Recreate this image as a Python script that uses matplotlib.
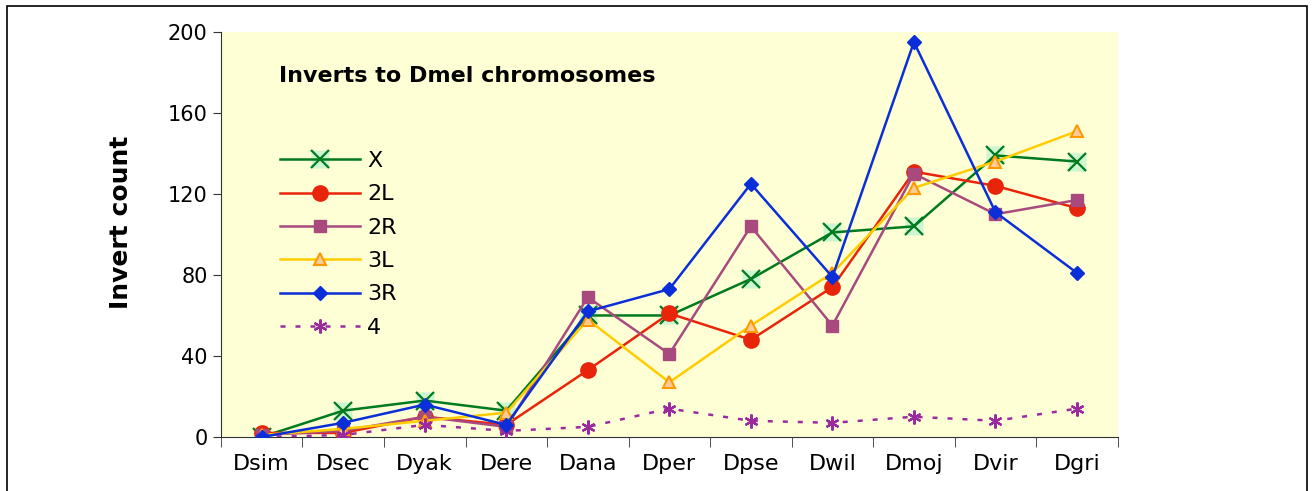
import matplotlib
matplotlib.use('Agg')
import matplotlib.pyplot as plt
from matplotlib.legend_handler import HandlerTuple
from matplotlib.patches import Rectangle
import numpy as np

species = ['Dsim', 'Dsec', 'Dyak', 'Dere', 'Dana', 'Dper', 'Dpse', 'Dwil', 'Dmoj', 'Dvir', 'Dgri']

chr_x  = [0, 13, 18, 13, 60, 60, 78, 101, 104, 139, 136]
chr_2l = [2, 2, 10, 6, 33, 61, 48, 74, 131, 124, 113]
chr_2r = [1, 3, 10, 5, 69, 41, 104, 55, 130, 110, 117]
chr_3l = [1, 4, 8, 12, 58, 27, 55, 81, 123, 136, 151]
chr_3r = [0, 7, 16, 6, 62, 73, 125, 79, 195, 111, 81]
chr_4  = [0, 1, 6, 3, 5, 14, 8, 7, 10, 8, 14]

fig = plt.figure(figsize=(13.15, 4.91), dpi=100)
ax = fig.add_axes([0.168, 0.110, 0.682, 0.825])
ax.set_facecolor('#FFFFD6')

# frame around whole chart
fig.patches.append(Rectangle((7/1315, -0.05), 1300/1315, 1 - 6/491 + 0.05,
                             transform=fig.transFigure, fill=False,
                             edgecolor='black', linewidth=1.2))

xs = np.arange(len(species))

# X series: light green square behind an x marker
bg, = ax.plot(xs, chr_x, linestyle='none', marker='s', markersize=13,
              markerfacecolor='#CCF5D0', markeredgecolor='none', zorder=2)
lx, = ax.plot(xs, chr_x, color='#007A1E', linewidth=1.8, marker='x',
              markersize=13, markeredgewidth=1.6, zorder=3)
l2l, = ax.plot(xs, chr_2l, color='#E8240A', linewidth=1.8, marker='o',
               markersize=11, zorder=3)
l2r, = ax.plot(xs, chr_2r, color='#A84A7E', linewidth=1.8, marker='s',
               markersize=9, zorder=3)
l3l, = ax.plot(xs, chr_3l, color='#FFCC00', linewidth=1.8, marker='^',
               markersize=9, markerfacecolor='#FFCC99', markeredgecolor='#FF9900',
               markeredgewidth=1.5, zorder=3)
l3r, = ax.plot(xs, chr_3r, color='#0A2FD8', linewidth=1.8, marker='D',
               markersize=7, zorder=4)
l4, = ax.plot(xs, chr_4, color='#9B2A9E', linewidth=1.8, linestyle=(0, (2, 4)),
              marker=(6, 2, 0), markersize=10, markeredgewidth=1.6, zorder=3)

ax.set_xlim(-0.5, len(species) - 0.5)
ax.set_ylim(0, 200)
ax.set_yticks(range(0, 201, 40))
ax.set_xticks(xs)
ax.set_xticklabels(species)
ax.set_xticks(np.arange(-0.5, len(species), 1), minor=True)
ax.tick_params(axis='x', which='major', length=0, pad=12, labelsize=16)
ax.tick_params(axis='x', which='minor', length=7, direction='out', color='#333333')
ax.tick_params(axis='y', length=6, direction='out', labelsize=15, color='#333333')

for s in ['top', 'right']:
    ax.spines[s].set_visible(False)
for s in ['left', 'bottom']:
    ax.spines[s].set_color('#333333')

ax.set_ylabel('Invert count', fontsize=18, fontweight='bold')
ax.yaxis.set_label_coords(-0.098, 0.53)

ax.text(0.065, 0.89, 'Inverts to Dmel chromosomes', transform=ax.transAxes,
        fontsize=16, fontweight='bold', va='center')

ax.legend([(bg, lx), l2l, l2r, l3l, l3r, l4], ['X', '2L', '2R', '3L', '3R', '4'],
          handler_map={tuple: HandlerTuple(ndivide=1, pad=0)},
          loc='upper left', bbox_to_anchor=(0.044, 0.755), frameon=False,
          fontsize=16, handlelength=3.6, labelspacing=0.6, handletextpad=0.3)

fig.savefig('out.png', dpi=100)
